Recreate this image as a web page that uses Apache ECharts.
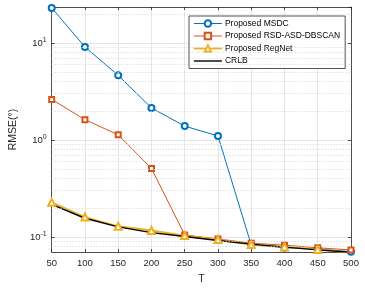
<!DOCTYPE html>
<html><head><meta charset="utf-8">
<script src="https://cdn.jsdelivr.net/npm/echarts@6/dist/echarts.min.js"></script>
<style>html,body{margin:0;padding:0;background:#fff}#c{width:365px;height:290px}</style>
</head><body><div id="c"></div>
<script>
const T = [50,100,150,200,250,300,350,400,450,500];
const msdc = [23.0,9.1,4.64,2.14,1.39,1.10,0.0828,0.0778,0.0753,0.0705];
const rsd = [2.62,1.62,1.13,0.508,0.105,0.0954,0.0863,0.0823,0.0773,0.0736];
const regnet = [0.2275,0.1607,0.129,0.1166,0.1035,0.094,0.0835,0.079,0.0745,0.0688];
const crlb = [0.217,0.156,0.127,0.111,0.101,0.092,0.0844,0.0785,0.0736,0.0697];
const minorGrid = [0.08,0.09,0.2,0.3,0.4,0.5,0.6,0.7,0.8,0.9,2,3,4,5,6,7,8,9,20];
const yTickLabels = {'-1':'10{s|-1}','0':'10{s|0}','1':'10{s|1}'};

const font = 'Liberation Sans, Arial, Helvetica, sans-serif';
const txt = '#262626';
const pair = a => a.map((v,i)=>[T[i],v]);
const chart = echarts.init(document.getElementById('c'), null, {renderer:'canvas'});
const axisLineStyle = {color:'#262626', width:0.8};
chart.setOption({
  animation:false,
  textStyle:{fontFamily:font},
  grid:{left:40,right:14,top:7,bottom:36},
  legend:{
    orient:'vertical', left:189, top:16,
    padding:[3,5,3,4], itemGap:3.5, itemWidth:28, itemHeight:8,
    backgroundColor:'#fff', borderColor:'#262626', borderWidth:0.8, borderRadius:0,
    lineStyle:{width:'inherit'}, itemStyle:{borderWidth:1},
    textStyle:{fontSize:8.5, color:'#000', fontFamily:font, padding:[0,0,0,-2]},
    data:['Proposed MSDC','Proposed RSD-ASD-DBSCAN','Proposed RegNet',
      {name:'CRLB', itemStyle:{color:'rgba(0,0,0,0)', borderColor:'rgba(0,0,0,0)', borderWidth:0}}]
  },
  xAxis:[{
    type:'value', min:50, max:500, interval:50, name:'T', nameLocation:'middle', nameGap:22,
    nameTextStyle:{fontSize:10.5,color:txt,fontFamily:font},
    axisLine:{lineStyle:axisLineStyle}, axisTick:{inside:true,length:3,lineStyle:axisLineStyle},
    axisLabel:{fontSize:9.5,color:txt,margin:6,fontFamily:font},
    splitLine:{show:true,lineStyle:{color:'#e6e6e6',width:1}}
  },{
    type:'value', position:'top', min:50, max:500, interval:50,
    axisLine:{lineStyle:axisLineStyle}, axisTick:{inside:true,length:3,lineStyle:axisLineStyle},
    axisLabel:{show:false}, splitLine:{show:false}
  }],
  yAxis:[{
    type:'log', logBase:10, min:0.07, max:23.5,
    name:'RMSE(°)', nameLocation:'middle', nameGap:27,
    nameTextStyle:{fontSize:10.5,color:txt,fontFamily:font},
    axisLine:{lineStyle:axisLineStyle}, axisTick:{inside:true,length:3,lineStyle:axisLineStyle},
    axisLabel:{fontSize:9.5,color:txt,margin:5,fontFamily:font,
      showMinLabel:false, showMaxLabel:false,
      formatter:function(v){const l=Math.log10(v);const r=Math.round(l);if(Math.abs(l-r)<1e-6&&yTickLabels[String(r)])return yTickLabels[String(r)];return '';},
      rich:{s:{fontSize:7,verticalAlign:'top',padding:[0,0,6,0],color:txt,fontFamily:font}}},
    splitLine:{show:true,lineStyle:{color:'#e6e6e6',width:1}}
  },{
    type:'log', logBase:10, min:0.07, max:23.5, position:'right',
    axisLine:{lineStyle:axisLineStyle}, axisTick:{inside:true,length:3,lineStyle:axisLineStyle},
    axisLabel:{show:false}, splitLine:{show:false}
  }],
  series:[
    {name:'grid', type:'line', data:[], silent:true, legendHoverLink:false,
     markLine:{silent:true, symbol:'none', label:{show:false},
       lineStyle:{color:'#d4d4d4', type:[1,2], width:1},
       data:minorGrid.map(v=>({yAxis:v}))}},
    {name:'Proposed MSDC', type:'line', data:pair(msdc), symbol:'emptyCircle', symbolSize:6,
     lineStyle:{color:'#0072BD',width:1}, itemStyle:{color:'#0072BD',borderWidth:1.1}},
    {name:'Proposed RSD-ASD-DBSCAN', type:'line', data:pair(rsd), symbol:'emptyRect', symbolSize:5,
     lineStyle:{color:'#D95319',width:1}, itemStyle:{color:'#D95319',borderWidth:1.1}},
    {name:'Proposed RegNet', type:'line', data:pair(regnet), symbol:'emptyTriangle', symbolSize:7,
     lineStyle:{color:'#EDB120',width:1.8}, itemStyle:{color:'#EDB120',borderWidth:1.1}},
    {name:'CRLB', type:'line', data:pair(crlb), symbol:'circle', showSymbol:false,
     lineStyle:{color:'#000',width:1.4}, itemStyle:{color:'#000'}}
  ]
});
</script></body></html>
